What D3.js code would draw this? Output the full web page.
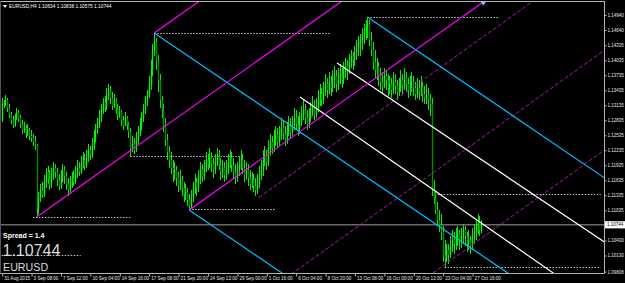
<!DOCTYPE html>
<html><head><meta charset="utf-8">
<script src="https://cdn.jsdelivr.net/npm/d3@7"></script>
<style>html,body{margin:0;padding:0;background:#000;overflow:hidden}svg{display:block}</style>
</head><body><svg id="c" width="625" height="283"></svg>
<script>
// ---------------- DATA ----------------
const symbolName = "EURUSD";
const timeframe = "H4";
const spread = "1.4";
const open0 = 1.1284;
const highs = [
1.1328,1.1324,1.1334,1.1328,1.1316,1.1300,1.1292,1.1296,1.1308,1.1304,
1.1294,1.1284,1.1280,1.1274,1.1276,1.1268,1.1264,1.1256,1.1252,1.1236,
1.1140,1.1156,1.1160,1.1174,1.1188,1.1192,1.1184,1.1188,1.1200,1.1196,
1.1188,1.1176,1.1184,1.1196,1.1192,1.1180,1.1168,1.1172,1.1180,1.1184,
1.1192,1.1204,1.1200,1.1212,1.1220,1.1216,1.1224,1.1236,1.1232,1.1248,
1.1264,1.1276,1.1288,1.1304,1.1316,1.1328,1.1332,1.1348,1.1356,1.1352,
1.1340,1.1336,1.1328,1.1316,1.1312,1.1304,1.1292,1.1300,1.1292,1.1280,
1.1268,1.1252,1.1248,1.1260,1.1272,1.1288,1.1300,1.1316,1.1332,1.1344,
1.1372,1.1404,1.1436,1.1458,1.1448,1.1414,1.1376,1.1332,1.1316,1.1288,
1.1256,1.1232,1.1220,1.1204,1.1200,1.1192,1.1180,1.1184,1.1172,1.1160,
1.1156,1.1148,1.1136,1.1144,1.1160,1.1176,1.1168,1.1184,1.1200,1.1196,
1.1204,1.1220,1.1216,1.1228,1.1220,1.1208,1.1216,1.1228,1.1224,1.1208,
1.1204,1.1200,1.1204,1.1216,1.1224,1.1220,1.1208,1.1196,1.1200,1.1212,
1.1224,1.1216,1.1204,1.1200,1.1196,1.1184,1.1180,1.1176,1.1168,1.1176,
1.1192,1.1204,1.1224,1.1232,1.1224,1.1244,1.1256,1.1252,1.1264,1.1272,
1.1268,1.1272,1.1288,1.1284,1.1272,1.1280,1.1292,1.1288,1.1292,1.1308,
1.1304,1.1292,1.1300,1.1312,1.1324,1.1316,1.1304,1.1308,1.1320,1.1332,
1.1324,1.1328,1.1344,1.1356,1.1348,1.1360,1.1376,1.1368,1.1380,1.1372,
1.1384,1.1392,1.1384,1.1388,1.1396,1.1388,1.1400,1.1408,1.1404,1.1416,
1.1424,1.1420,1.1432,1.1444,1.1452,1.1456,1.1468,1.1476,1.1484,1.1490,
1.1484,1.1460,1.1440,1.1424,1.1408,1.1400,1.1388,1.1380,1.1388,1.1384,
1.1376,1.1372,1.1368,1.1380,1.1376,1.1364,1.1368,1.1384,1.1376,1.1388,
1.1380,1.1368,1.1372,1.1380,1.1372,1.1360,1.1368,1.1364,1.1372,1.1360,
1.1352,1.1356,1.1348,1.1336,1.1328,1.1164,1.1144,1.1120,1.1104,1.1096,
1.1072,1.1044,1.1036,1.1036,1.1052,1.1064,1.1060,1.1068,1.1072,1.1064,
1.1068,1.1076,1.1072,1.1060,1.1064,1.1052,1.1068,1.1076,1.1084,1.1096,
1.1092,1.10838];
const lows = [
1.1280,1.1308,1.1312,1.1300,1.1288,1.1276,1.1268,1.1270,1.1284,1.1280,
1.1268,1.1256,1.1258,1.1248,1.1252,1.1244,1.1240,1.1232,1.1224,1.1090,
1.1096,1.1120,1.1128,1.1130,1.1148,1.1156,1.1144,1.1148,1.1164,1.1168,
1.1152,1.1144,1.1146,1.1160,1.1156,1.1144,1.1132,1.1136,1.1148,1.1152,
1.1156,1.1168,1.1172,1.1176,1.1188,1.1184,1.1188,1.1200,1.1204,1.1208,
1.1224,1.1240,1.1256,1.1268,1.1280,1.1296,1.1300,1.1304,1.1324,1.1316,
1.1304,1.1308,1.1296,1.1284,1.1288,1.1272,1.1264,1.1272,1.1264,1.1248,
1.1212,1.1220,1.1216,1.1220,1.1236,1.1252,1.1264,1.1280,1.1296,1.1312,
1.1328,1.1344,1.1372,1.1412,1.1384,1.1340,1.1308,1.1288,1.1260,1.1232,
1.1204,1.1188,1.1176,1.1160,1.1164,1.1152,1.1140,1.1144,1.1132,1.1120,
1.1124,1.1112,1.1104,1.1106,1.1120,1.1136,1.1132,1.1140,1.1156,1.1160,
1.1164,1.1180,1.1184,1.1188,1.1180,1.1168,1.1176,1.1192,1.1184,1.1164,
1.1168,1.1160,1.1164,1.1176,1.1188,1.1180,1.1168,1.1156,1.1160,1.1172,
1.1184,1.1176,1.1160,1.1164,1.1152,1.1144,1.1148,1.1140,1.1132,1.1136,
1.1148,1.1164,1.1172,1.1192,1.1184,1.1192,1.1212,1.1216,1.1220,1.1232,
1.1228,1.1232,1.1244,1.1244,1.1232,1.1236,1.1252,1.1248,1.1252,1.1264,
1.1264,1.1252,1.1256,1.1272,1.1284,1.1276,1.1264,1.1268,1.1280,1.1292,
1.1284,1.1288,1.1300,1.1312,1.1312,1.1316,1.1332,1.1328,1.1336,1.1332,
1.1340,1.1348,1.1340,1.1344,1.1356,1.1348,1.1356,1.1368,1.1364,1.1376,
1.1388,1.1384,1.1392,1.1404,1.1412,1.1412,1.1424,1.1436,1.1444,1.1448,
1.1432,1.1412,1.1384,1.1368,1.1364,1.1352,1.1344,1.1336,1.1348,1.1344,
1.1332,1.1336,1.1328,1.1336,1.1336,1.1324,1.1332,1.1340,1.1336,1.1344,
1.1340,1.1328,1.1332,1.1340,1.1332,1.1324,1.1328,1.1324,1.1332,1.1320,
1.1316,1.1316,1.1304,1.1292,1.1132,1.1116,1.1096,1.1072,1.1060,1.1044,
1.1000,1.0990,1.1000,1.0996,1.1008,1.1020,1.1016,1.1024,1.1032,1.1024,
1.1028,1.1036,1.1032,1.1020,1.1024,1.1016,1.1024,1.1036,1.1044,1.1056,
1.1052,1.10575];
const closes = [
1.1316,1.1320,1.1324,1.1308,1.1294,1.1284,1.1274,1.1288,1.1300,1.1288,
1.1276,1.1264,1.1268,1.1256,1.1264,1.1252,1.1248,1.1240,1.1234,1.1108,
1.1128,1.1144,1.1134,1.1160,1.1180,1.1168,1.1154,1.1172,1.1188,1.1180,
1.1164,1.1152,1.1168,1.1184,1.1172,1.1156,1.1144,1.1154,1.1168,1.1160,
1.1174,1.1188,1.1180,1.1194,1.1204,1.1192,1.1208,1.1224,1.1214,1.1234,
1.1248,1.1264,1.1274,1.1288,1.1304,1.1320,1.1308,1.1332,1.1344,1.1328,
1.1312,1.1324,1.1308,1.1294,1.1300,1.1284,1.1272,1.1288,1.1276,1.1260,
1.1228,1.1236,1.1224,1.1244,1.1260,1.1274,1.1288,1.1304,1.1324,1.1334,
1.1354,1.1384,1.1424,1.1440,1.1404,1.1364,1.1324,1.1304,1.1274,1.1244,
1.1220,1.1204,1.1188,1.1174,1.1184,1.1168,1.1154,1.1164,1.1148,1.1134,
1.1140,1.1124,1.1112,1.1128,1.1144,1.1160,1.1148,1.1168,1.1184,1.1172,
1.1188,1.1204,1.1194,1.1208,1.1196,1.1184,1.1200,1.1212,1.1194,1.1180,
1.1188,1.1174,1.1184,1.1198,1.1208,1.1194,1.1180,1.1168,1.1184,1.1194,
1.1204,1.1188,1.1174,1.1184,1.1168,1.1156,1.1164,1.1152,1.1144,1.1156,
1.1172,1.1184,1.1204,1.1214,1.1200,1.1224,1.1240,1.1228,1.1244,1.1254,
1.1240,1.1252,1.1268,1.1256,1.1244,1.1260,1.1274,1.1260,1.1272,1.1288,
1.1276,1.1264,1.1280,1.1292,1.1304,1.1288,1.1276,1.1288,1.1300,1.1312,
1.1296,1.1308,1.1324,1.1336,1.1324,1.1340,1.1356,1.1344,1.1360,1.1348,
1.1364,1.1372,1.1356,1.1364,1.1376,1.1364,1.1380,1.1392,1.1384,1.1400,
1.1412,1.1404,1.1420,1.1428,1.1440,1.1444,1.1456,1.1464,1.1472,1.1476,
1.1444,1.1424,1.1400,1.1384,1.1392,1.1372,1.1360,1.1352,1.1372,1.1364,
1.1348,1.1356,1.1344,1.1360,1.1352,1.1340,1.1348,1.1364,1.1352,1.1368,
1.1356,1.1344,1.1352,1.1360,1.1348,1.1336,1.1348,1.1340,1.1352,1.1336,
1.1328,1.1334,1.1324,1.1316,1.1144,1.1128,1.1104,1.1084,1.1074,1.1060,
1.1014,1.1008,1.1024,1.1014,1.1032,1.1044,1.1036,1.1048,1.1056,1.1044,
1.1052,1.1064,1.1052,1.1036,1.1044,1.1032,1.1048,1.1060,1.1072,1.1080,
1.10634,1.10744];

// time axis labels: one every 16 H4 bars, starting at bar 0
const xLabels = ["31 Aug 2015","3 Sep 08:00","7 Sep 12:00","10 Sep 04:00","14 Sep 16:00",
  "17 Sep 08:00","21 Sep 20:00","24 Sep 12:00","29 Sep 00:00","1 Oct 16:00","6 Oct 04:00",
  "8 Oct 20:00","13 Oct 08:00","16 Oct 00:00","20 Oct 12:00","23 Oct 04:00","27 Oct 16:00"];
const xLabelBars = [0,16,32,48,64,80,96,112,128,144,160,176,192,208,224,240,256];
const yTicks = [1.14940,1.14640,1.14335,1.14035,1.13735,1.13435,1.13135,1.12835,1.12535,
  1.12235,1.11935,1.11635,1.11335,1.11035,1.10430,1.10130,1.09808];

// drawn objects: rays given as [startBar, startPrice, throughBar, throughPrice]
const magentaRays = [[19,1.1090,92.5,1.1281],[83,1.1458,156.5,1.1649],[102,1.1104,175.5,1.1295]];
const cyanRays    = [[83,1.1458,273,1.0984],[102,1.1104,292,1.0630],[199,1.1490,389,1.1016]];
const whiteRays   = [[162.3,1.1330,297.8,1.0984],[182.5,1.1398,327.2,1.1042]];
const purpleRays  = [[140,1.1129,269.5,1.1470],[155,1.0969,303.8,1.1360],[232,1.0971,303.8,1.1160]];
// dotted horizontal levels: [price, fromBar, toBar]
const levels = [[1.1090,17,70],[1.1458,83,179],[1.1212,70,130],[1.1106,102,149],
  [1.1490,199,271],[1.1136,234,326],[1.0990,241,326],[1.1014,0,43]];

// ---------------- DRAW ----------------
const W = 625, H = 283;
const plot = {left: 0, right: 604, top: 2, bottom: 273};
const svg = d3.select('#c');
const font = "'Liberation Sans', Arial, sans-serif";
const x = d3.scaleLinear().domain([0, 328]).range([1.7, 604.4]);
const y = d3.scaleLinear().domain([1.14940, 1.09808]).range([15, 271.6]);

svg.append('rect').attr('width', W).attr('height', H).attr('fill', '#000');
svg.append('defs').append('clipPath').attr('id', 'clip').append('rect')
  .attr('x', plot.left).attr('y', plot.top)
  .attr('width', plot.right - plot.left).attr('height', plot.bottom - plot.top);
const g = svg.append('g').attr('clip-path', 'url(#clip)');

const lastClose = closes[closes.length - 1];

// dotted levels
g.selectAll('line.lvl').data(levels).join('line').attr('class', 'lvl')
  .attr('x1', d => x(d[1])).attr('x2', d => x(d[2]))
  .attr('y1', d => Math.round(y(d[0])) + 0.5).attr('y2', d => Math.round(y(d[0])) + 0.5)
  .attr('stroke', '#c0c0c0').attr('stroke-width', 1).attr('stroke-dasharray', '1.5,1.5');

// bid line
g.append('line').attr('x1', plot.left).attr('x2', plot.right)
  .attr('y1', y(lastClose)).attr('y2', y(lastClose))
  .attr('stroke', '#6a6a6a').attr('stroke-width', 1.4);

// candles
const bars = closes.map((c, i) => ({i, o: i ? closes[i - 1] : open0, h: highs[i], l: lows[i], c}));
g.selectAll('line.wick').data(bars).join('line').attr('class', 'wick')
  .attr('x1', d => Math.round(x(d.i)) + 0.5).attr('x2', d => Math.round(x(d.i)) + 0.5)
  .attr('y1', d => y(Math.max(d.h, d.o, d.c))).attr('y2', d => y(Math.min(d.l, d.o, d.c)))
  .attr('stroke', '#00ee00').attr('stroke-width', 1);
g.selectAll('rect.body').data(bars).join('rect').attr('class', 'body')
  .attr('x', d => Math.round(x(d.i)) + 0.5 - 0.7).attr('width', 1.4)
  .attr('y', d => y(Math.max(d.o, d.c)))
  .attr('height', d => Math.max(0.8, Math.abs(y(d.o) - y(d.c))))
  .attr('fill', d => d.c >= d.o ? '#00ff00' : '#008c00');

// rays
function rayPath(r) {
  const slope = (r[3] - r[1]) / (r[2] - r[0]);
  const endBar = 420;
  return [[x(r[0]), y(r[1])], [x(endBar), y(r[1] + slope * (endBar - r[0]))]];
}
const line = d3.line();
function drawRays(data, color, width, dash) {
  g.append('g').selectAll('path').data(data).join('path')
    .attr('d', d => line(rayPath(d))).attr('fill', 'none')
    .attr('stroke', color).attr('stroke-width', width)
    .attr('stroke-dasharray', dash || null);
}
drawRays(purpleRays, '#a31fb0', 1, '4,2');
drawRays(whiteRays, '#ffffff', 1.2);
drawRays(cyanRays, '#00bfff', 1.2);
drawRays(magentaRays, '#ff00ff', 1.2);

// frame
const frame = '#b4b4b4';
svg.append('line').attr('x1', 0).attr('x2', plot.right + 0.5).attr('y1', 1.5).attr('y2', 1.5)
  .attr('stroke', frame).attr('stroke-width', 1);
svg.append('line').attr('x1', plot.right + 0.5).attr('x2', plot.right + 0.5).attr('y1', 1).attr('y2', plot.bottom + 0.5)
  .attr('stroke', frame).attr('stroke-width', 1);
svg.append('line').attr('x1', 0).attr('x2', plot.right + 0.5).attr('y1', plot.bottom + 0.5).attr('y2', plot.bottom + 0.5)
  .attr('stroke', frame).attr('stroke-width', 1);
svg.append('line').attr('x1', 0.5).attr('x2', 0.5).attr('y1', 1).attr('y2', plot.bottom + 0.5)
  .attr('stroke', '#555').attr('stroke-width', 1);

// x axis
const xAxis = d3.axisBottom(x).tickValues(xLabelBars)
  .tickFormat((d, i) => xLabels[i]).tickSize(3).tickPadding(0.5);
const gx = svg.append('g').attr('transform', `translate(0.5,${plot.bottom + 0.5})`).call(xAxis);
gx.select('.domain').remove();
gx.selectAll('.tick line').attr('stroke', frame);
gx.selectAll('.tick text').attr('text-anchor', 'start').attr('dx', 1.5)
  .attr('fill', '#e6e6e6').style('font-family', font).style('font-size', '4.6px');

// y axis
const yAxis = d3.axisRight(y).tickValues(yTicks).tickFormat(d3.format('.5f')).tickSize(2).tickPadding(1);
const gy = svg.append('g').attr('transform', `translate(${plot.right + 0.5},0)`).call(yAxis);
gy.select('.domain').remove();
gy.selectAll('.tick line').attr('stroke', frame);
gy.selectAll('.tick text').attr('fill', '#e6e6e6').style('font-family', font).style('font-size', '4.5px');

// price box
const py = y(lastClose);
svg.append('rect').attr('x', plot.right + 1).attr('y', py - 3.6).attr('width', W - plot.right - 1).attr('height', 7.2)
  .attr('fill', '#ffffff');
svg.append('text').attr('x', plot.right + 3).attr('y', py).attr('dy', '0.35em')
  .attr('fill', '#000').style('font-family', font).style('font-size', '4.5px')
  .text(d3.format('.5f')(lastClose));

// chart shift marker
const sx = x(closes.length - 1) + 2;
svg.append('path').attr('d', `M${sx - 2.5},2 L${sx + 2.5},2 L${sx},5.5 Z`).attr('fill', '#9fb8d0');

// header text
const last = bars[bars.length - 1];
svg.append('path').attr('d', 'M3,5 L7,5 L5,8 Z').attr('fill', '#ffffff');
svg.append('text').attr('x', 9).attr('y', 8.3).attr('fill', '#ffffff')
  .style('font-family', font).style('font-size', '4.8px')
  .text(`${symbolName},${timeframe}  ${d3.format('.5f')(last.o)} ${d3.format('.5f')(last.h)} ${d3.format('.5f')(last.l)} ${d3.format('.5f')(last.c)}`);

// info panel
svg.append('text').attr('x', 3).attr('y', 237.5).attr('fill', '#ffffff')
  .style('font-family', font).style('font-size', '7px').style('font-weight', 'bold')
  .text(`Spread = ${spread}`);
svg.append('text').attr('x', 2.5).attr('y', 255.5).attr('fill', '#dcdcdc')
  .style('font-family', font).style('font-size', '16px')
  .text(d3.format('.5f')(lastClose));
svg.append('text').attr('x', 3).attr('y', 270.5).attr('fill', '#dcdcdc')
  .style('font-family', font).style('font-size', '10.7px')
  .text(symbolName);
</script>
</body></html>
